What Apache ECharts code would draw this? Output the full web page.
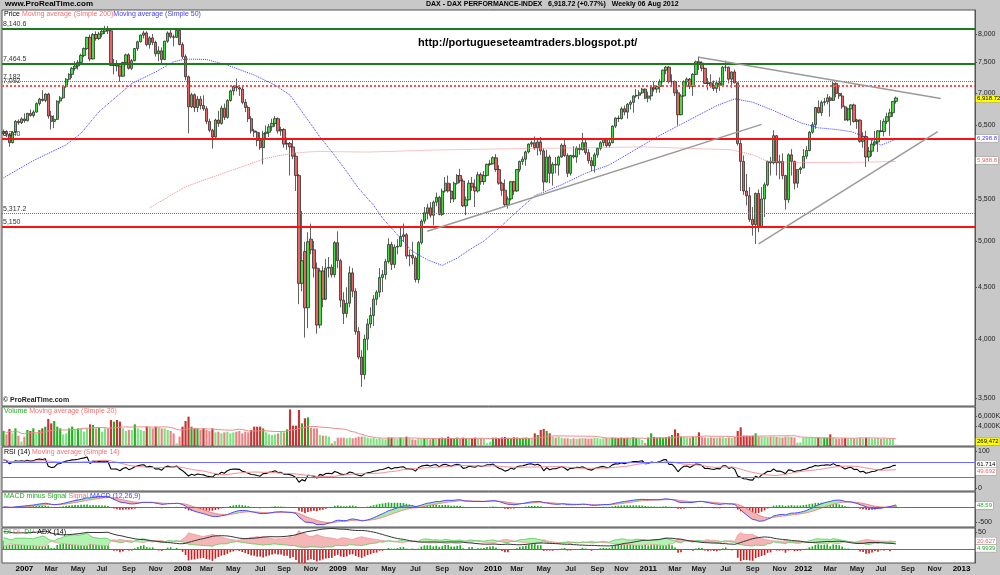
<!DOCTYPE html>
<html><head><meta charset="utf-8">
<script src="https://cdn.jsdelivr.net/npm/echarts@6.0.0/dist/echarts.min.js"></script>
<style>html,body{margin:0;padding:0;background:#c8c8c8}#c{width:1000px;height:575px}</style>
</head><body><div id="c"></div><script>
// Weekly DAX candles, first week = 2006-11-13 (k=-7), last = 2012-08-06 (k=292)
const opens = [6380,6410,6370,6250,6400,6560,6540,
6597,6570,6680,6650,6700,6830,6900,6880,6980,6640,
6560,6590,6870,6920,7100,7220,7300,7400,7440,7500,
7620,7740,7940,7560,7990,7920,8000,8050,8100,8060,
7450,7460,7440,7270,7500,7630,7400,7530,7740,7860,
7980,8020,7810,7930,7850,7650,7700,7550,7870,8020,
7950,7940,8067,7810,7600,7260,6780,6970,6770,6900,
6800,6750,6560,6430,6330,6580,6530,6760,6620,6880,
7030,7100,7080,7060,6850,6770,6600,6420,6400,6280,
6180,6380,6400,6480,6530,6600,6420,6440,6230,6240,
6190,6060,5800,4540,4880,4295,5020,4900,4700,4130,
4670,4380,4700,4710,4630,4980,4780,4370,4240,4340,
4650,4460,4070,3840,3690,4000,4140,4220,4380,4450,
4600,4630,4770,4960,4740,4930,4940,5050,5070,4830,
4840,4810,4580,4980,5230,5330,5390,5300,5460,5520,
5310,5600,5700,5600,5500,5700,5800,5730,5414,5490,
5700,5650,5600,5810,5720,5800,5950,5957,6040,5880,
5700,5610,5430,5500,5720,5600,5880,5990,6020,6120,
6230,6250,6180,6260,6135,5715,6050,5830,5950,5940,
6050,6215,6070,5830,6070,6050,6170,6150,6250,6110,
6000,5930,6080,6170,6250,6300,6210,6250,6490,6610,
6600,6750,6700,6820,6850,6950,6960,7000,7060,6914,
6950,7080,7060,7100,7180,7370,7420,7180,7180,7000,
6660,6950,7180,7220,7100,7300,7510,7490,7400,7150,
7160,7110,7070,7160,7120,7420,7420,7220,7340,7160,
6240,5990,5600,5540,5250,5190,5570,5160,5500,5680,
5990,5970,6350,5970,5990,5800,5490,6080,5990,5700,
5880,5900,6060,6140,6400,6510,6770,6690,6850,6860,
6920,6880,7150,6990,6950,6780,6580,6750,6810,6560,
6580,6270,6340,6050,6130,6230,6260,6420,6410,6560,
6630,6690,6865];
const highs = [6440,6430,6390,6420,6580,6590,6620,
6680,6690,6740,6730,6850,6920,7040,6990,7000,6720,
6650,6880,6950,7110,7240,7320,7420,7520,7540,7650,
7760,7950,7990,8020,8050,8040,8080,8151,8150,8080,
7560,7540,7450,7510,7650,7660,7560,7750,7880,7990,
8060,8050,7960,8000,7880,7780,7760,7880,8050,8100,
7990,8080,8100,7850,7640,7280,7000,6990,6950,6950,
6960,6790,6600,6450,6600,6720,6800,6830,6900,7050,
7120,7230,7110,7100,6900,6800,6640,6450,6420,6400,
6420,6500,6520,6600,6640,6620,6480,6460,6320,6260,
6300,6110,5820,5350,4990,5100,5200,5000,4760,4700,
4720,4800,4820,4740,5000,5110,4800,4450,4500,4720,
4700,4490,4110,3900,4040,4190,4300,4420,4470,4700,
4680,4800,5030,4990,4960,5020,5150,5200,5090,4900,
4990,4830,5000,5250,5400,5440,5460,5480,5580,5540,
5630,5780,5800,5700,5720,5820,5890,5760,5530,5740,
5780,5750,5850,5840,5860,5960,6010,6060,6090,5940,
5720,5750,5530,5730,5730,5880,6000,6060,6140,6240,
6280,6340,6300,6330,6170,6150,6080,5980,6050,6070,
6240,6300,6100,6080,6200,6200,6230,6390,6300,6160,
6050,6110,6180,6270,6310,6320,6320,6500,6620,6650,
6780,6800,6840,6880,6960,7060,7040,7080,7070,7020,
7100,7180,7120,7220,7380,7440,7440,7300,7200,7050,
6980,7200,7250,7240,7320,7530,7600,7520,7410,7240,
7300,7200,7200,7250,7440,7530,7430,7350,7380,7170,
6300,6070,5820,5650,5400,5580,5620,5650,5710,6000,
6050,6430,6360,6080,6100,5810,6100,6160,6000,5880,
5920,6160,6200,6420,6550,6780,6880,6880,6920,6980,
6950,7194,7170,7100,7000,6800,6770,6820,6830,6600,
6590,6400,6420,6190,6290,6420,6430,6580,6600,6690,
6750,6870,6940];
const lows = [6350,6330,6190,6240,6390,6510,6520,
6540,6560,6630,6620,6690,6800,6860,6850,6600,6440,
6460,6580,6830,6900,7080,7200,7240,7360,7380,7480,
7590,7720,7520,7550,7880,7890,7940,8000,8000,7440,
7300,7350,7180,7260,7450,7380,7370,7520,7700,7850,
7920,7780,7740,7800,7600,7520,7470,7540,7840,7920,
7780,7930,7800,7560,7200,6384,6760,6700,6700,6740,
6720,6520,6400,6167,6320,6480,6510,6580,6600,6860,
6960,7020,6950,6820,6700,6550,6380,6330,6200,6150,
5950,6300,6330,6420,6480,6380,6350,6180,6150,5800,
6020,5600,4330,4460,4014,4100,4850,4600,4050,4100,
4300,4370,4600,4600,4600,4700,4300,4140,4200,4300,
4400,4040,3820,3588,3650,3900,4100,4120,4320,4400,
4450,4580,4750,4680,4700,4850,4930,4990,4800,4720,
4740,4550,4540,4960,5200,5250,5270,5180,5410,5300,
5290,5580,5580,5450,5460,5680,5700,5400,5300,5480,
5600,5400,5580,5680,5680,5790,5930,5950,5850,5680,
5540,5400,5380,5480,5550,5590,5850,5940,5930,6100,
6190,6150,6070,6080,5600,5710,5700,5670,5830,5800,
6040,6050,5780,5800,6030,5970,6080,6140,6080,5960,
5860,5840,6040,6140,6200,6180,6180,6240,6460,6550,
6590,6650,6600,6740,6690,6920,6900,6980,6900,6850,
6880,7020,7000,7000,7170,7300,7150,7100,6950,6500,
6650,6940,7120,7060,6950,7290,7370,7350,7140,7040,
7080,7030,7000,7030,7100,7350,7150,7080,7150,6210,
5600,5550,5420,5220,5060,4965,5100,5150,5280,5660,
5800,5950,5800,5750,5750,5370,5450,5800,5620,5640,
5820,5900,6020,6130,6380,6450,6680,6640,6800,6820,
6630,6870,6930,6900,6750,6570,6560,6500,6540,6450,
6250,6180,5915,5990,6060,6200,6120,6400,6340,6520,
6350,6630,6830];
const closes = [6410,6370,6250,6400,6560,6540,6597,
6570,6680,6650,6700,6830,6900,6880,6980,6640,6560,
6590,6870,6920,7100,7220,7300,7400,7440,7500,7620,
7740,7940,7560,7990,7920,8000,8050,8100,8060,7450,
7460,7440,7270,7500,7630,7400,7530,7740,7860,7980,
8020,7810,7930,7850,7650,7700,7550,7870,8020,7950,
7940,8067,7810,7600,7260,6780,6970,6770,6900,6800,
6750,6560,6430,6330,6580,6530,6760,6620,6880,7030,
7100,7080,7060,6850,6770,6600,6420,6400,6280,6180,
6380,6400,6480,6530,6600,6420,6440,6230,6240,6190,
6060,5800,4540,4780,4295,4990,4900,4700,4130,4670,
4380,4700,4710,4630,4980,4780,4370,4240,4340,4650,
4460,4070,3840,3690,4000,4140,4220,4380,4450,4600,
4630,4770,4960,4740,4930,4940,5050,5070,4830,4840,
4810,4580,4980,5230,5330,5390,5300,5460,5520,5310,
5600,5700,5600,5500,5700,5800,5730,5414,5490,5700,
5650,5600,5810,5720,5800,5950,5957,6040,5880,5700,
5610,5430,5500,5720,5600,5880,5990,6020,6120,6230,
6250,6180,6260,6135,5715,6050,5830,5950,5940,6050,
6215,6070,5830,6070,6050,6170,6150,6250,6110,6000,
5930,6080,6170,6250,6300,6210,6250,6490,6610,6600,
6750,6700,6820,6850,6950,6960,7000,7060,6914,6950,
7080,7060,7100,7180,7370,7420,7180,7180,7000,6660,
6950,7180,7220,7100,7300,7510,7490,7400,7150,7160,
7110,7070,7160,7120,7420,7420,7220,7340,7160,6240,
5990,5600,5540,5250,5190,5570,5160,5500,5680,5990,
5970,6350,5970,5990,5800,5490,6080,5990,5700,5880,
5900,6060,6140,6400,6510,6770,6690,6850,6860,6920,
6880,7150,6990,6950,6780,6580,6750,6810,6560,6580,
6270,6340,6050,6130,6230,6260,6420,6410,6560,6630,
6690,6865,6918.72];
// weekly volume, thousands
const volumesK = [3000,2330,3400,2530,3530,2070,870,
1870,3200,3000,3530,2530,3200,3530,3870,5400,4530,
5000,3870,3530,2330,2530,3530,3870,3200,3530,3400,
2870,3530,4330,4200,3530,3730,2870,3530,3530,5200,
4870,5200,4870,3530,3000,3200,3200,4330,3530,3200,
3000,3870,3730,3530,3870,3730,3530,3530,3200,3000,
2530,530,1870,3870,5000,5870,3870,3530,3530,3200,
3530,3200,3000,3530,2730,2870,2530,2730,2870,2530,
2730,2870,3000,2530,2870,2730,3200,3870,3870,3870,
3530,2730,2330,2200,2330,2530,2870,2730,3330,7330,
4070,4070,7200,4530,5530,5730,3670,3530,3530,2200,
2070,2070,1870,530,1000,1670,1670,1670,1530,1670,
1530,1670,1870,1870,1870,1670,1530,1670,1400,1530,
1400,1330,1730,1670,1530,1400,1670,1530,1870,1530,
1330,1200,1530,1400,1530,1400,1330,1530,1400,1530,
1670,1530,1870,1530,1530,1670,1400,1670,1530,1400,
1530,1670,1530,1530,1400,530,870,1670,1670,1600,
1700,1800,1650,1600,1750,1700,1600,1650,1700,1550,
1530,2530,2200,3200,3400,3000,2530,1870,1670,1870,
1670,1530,1530,1400,1530,1450,1500,1600,1550,1450,
1500,1650,1600,1450,1550,1600,1500,1700,1650,1600,
1700,1600,1650,1550,1750,1600,1500,1200,600,1700,
2530,1800,1700,1750,1650,1800,1900,2200,3330,2600,
1870,1800,1700,1650,1870,1800,2730,1750,1700,1650,
1700,1600,1650,1700,1750,1600,1700,1650,1800,3000,
3730,2070,2070,2000,2070,2530,1870,1870,1870,1800,
1870,1900,1800,1750,1700,1850,1900,1800,1700,670,
700,1670,1670,1600,1700,1650,1700,1600,1650,1650,
2330,1600,1500,1450,1550,1600,1500,1550,1450,1500,
1600,1500,1650,1550,1450,1500,1550,1400,1500,1450,
1500,1450,269.472];
// Moving averages: [week index from 2007-01-01, value]
const ma50Points = [[-7,5770],[3,6000],[14,6220],[19,6385],[25,6706],[36,7150],[44,7340],[50,7512],[54,7557],[61,7551],[68,7455],[77,7288],[84,7123],[89,6963],[93,6705],[99,6334],[103,6122],[108,5853],[112,5632],[117,5421],[120,5265],[124,5108],[127,4993],[130,4882],[135,4790],[140,4729],[145,4808],[150,4919],[154,5000],[159,5145],[164,5311],[171,5540],[180,5680],[188,5830],[196,5942],[212,6334],[221,6540],[232,6800],[238,6905],[244,6852],[251,6723],[260,6540],[266,6465],[272,6440],[277,6409],[283,6310],[287,6215],[292,6298.8]];
const ma200Points = [[42,5390],[54,5656],[70,5877],[81,6034],[90,6104],[98,6127],[115,6118],[137,6146],[156,6160],[174,6171],[208,6190],[230,6160],[237,6150],[244,6080],[249,5990],[260,5975],[275,5975],[292,5988.8]];
const priceTicks = [3500,4000,4500,5000,5500,6000,6500,7000,7500,8000];
const levels = [
  {v:8140.6, label:'8,140.6', color:'#1d7a1d', type:'solid', w:2},
  {v:7464.5, label:'7,464.5', color:'#1d7a1d', type:'solid', w:2},
  {v:7182, label:'7,182', color:'#9b45ff', type:'dotted', w:1},
  {v:7092, label:'7,092', color:'#ff5050', type:'dotted', w:2},
  {v:6340, label:'6,340', color:'#ff1010', type:'solid', w:2},
  {v:5317.2, label:'5,317.2', color:'#9b45ff', type:'dotted', w:1},
  {v:5150, label:'5,150', color:'#ff1010', type:'solid', w:2}
];
// trend lines: [week1, price1, week2, price2]
const trendLines = [[135,5110,247,6515],[226,7590,307,6910],[246,4965,306,6410]];
const volTicks = [4000,6000];
const boxTexts = {last:'6,918.72', ma50:'6,298.8', ma200:'5,988.8', vol:'269,472', rsi:'61.714', rsiMa:'49.692', macd:'48.59', diM:'20.627', diP:'4.9939'};
const boxValues = {ma50:6298.8, ma200:5988.8, rsi:61.714, rsiMa:49.692, macd:48.59, diM:20.627, diP:4.9939};

const FIRST_K = -7, NCAT = 326;
const MONTHS = ['Jan','Feb','Mar','Apr','May','Jun','Jul','Aug','Sep','Oct','Nov','Dec'];
const dates = [];
for (let i = 0; i < NCAT; i++) dates.push(new Date(Date.UTC(2006,10,13) + i*7*86400000).toISOString().slice(0,10));
const idx = k => k - FIRST_K;
const n = closes.length;
const FONT = 'Liberation Sans, Arial, sans-serif';
const L = Math.log;

function sparse(points){ const a = new Array(n).fill(null); points.forEach(p => { a[idx(p[0])] = L(p[1]); }); return a; }
function smaPartial(a, p){ return a.map((_, i) => { const s = a.slice(Math.max(0, i-p+1), i+1); return s.reduce((x,y)=>x+y,0)/s.length; }); }
function ema(a, p){ const k = 2/(p+1); let e = a[0]; return a.map((v,i) => (e = i===0 ? v : v*k + e*(1-k))); }
function calcRSI(c, p){
  let ag=0, al=0;
  for (let i=1;i<=p;i++){ const d=c[i]-c[i-1]; if(d>0) ag+=d; else al-=d; }
  ag/=p; al/=p;
  const out=[100-100/(1+ag/(al||1e-9))];
  for (let i=1;i<c.length;i++){ const d=c[i]-c[i-1]; ag=(ag*(p-1)+Math.max(d,0))/p; al=(al*(p-1)+Math.max(-d,0))/p; out.push(100-100/(1+ag/(al||1e-9))); }
  return out;
}
function calcDMI(h,l,c,p){
  const tr=[],pdm=[],mdm=[];
  for (let i=0;i<c.length;i++){
    if(i===0){ tr.push(h[0]-l[0]); pdm.push(0); mdm.push(0); continue; }
    const up=h[i]-h[i-1], dn=l[i-1]-l[i];
    tr.push(Math.max(h[i]-l[i], Math.abs(h[i]-c[i-1]), Math.abs(l[i]-c[i-1])));
    pdm.push(up>dn&&up>0?up:0); mdm.push(dn>up&&dn>0?dn:0);
  }
  const w = a => { let s=a.slice(0,p).reduce((x,y)=>x+y,0)/p; return a.map(v => (s=(s*(p-1)+v)/p)); };
  const str=w(tr), sp=w(pdm), sm=w(mdm);
  const dip=str.map((t,i)=>100*sp[i]/t), dim=str.map((t,i)=>100*sm[i]/t);
  const dx=dip.map((v,i)=>100*Math.abs(v-dim[i])/((v+dim[i])||1));
  return {dip, dim, adx:w(dx)};
}

const candleData = opens.map((o,i) => [L(o), L(closes[i]), L(lows[i]), L(highs[i])]);
const volMA = smaPartial(volumesK, 20);
const rsi = calcRSI(closes, 14);
const rsiMA = smaPartial(rsi, 14);
const e12 = ema(closes, 12), e26 = ema(closes, 26);
const macd = closes.map((_, i) => e12[i]-e26[i]);
const signal = ema(macd, 9);
const macdHist = macd.map((m,i) => m-signal[i]);
const dmi = calcDMI(highs, lows, closes, 14);
const diHist = dmi.dip.map((v,i) => v-dmi.dim[i]);

const gridDefs = [[10,396],[407,39],[447,44],[492,35],[528,35]];
const grids = gridDefs.map(g => ({left:2, right:25, top:g[0], height:g[1], show:true, backgroundColor:'#fff', borderColor:'#555', borderWidth:1, containLabel:false, outerBoundsMode:'none'}));
const xAxes = gridDefs.map((g, gi) => ({
  type:'category', gridIndex:gi, data:dates, boundaryGap:true,
  axisLine:{show:false}, axisTick:{show:false}, splitLine:{show:false},
  axisLabel:{show: gi===4, margin:2, color:'#000', fontFamily:FONT,
    interval:(i, v) => { const d = new Date(v+'T00:00:00Z'); return d.getUTCDate()<=7 && d.getUTCMonth()%2===0; },
    formatter:(v) => { const d = new Date(v+'T00:00:00Z'); return d.getUTCMonth()===0 ? '{y|'+d.getUTCFullYear()+'}' : '{m|'+MONTHS[d.getUTCMonth()]+'}'; },
    rich:{y:{fontWeight:'bold', fontSize:8, fontFamily:FONT, color:'#000'}, m:{fontSize:7.5, fontWeight:'bold', fontFamily:FONT, color:'#222'}}}
}));
function yAx(gi, min, max, ticks, fmt){
  return {type:'value', gridIndex:gi, position:'right', min, max, scale:true,
    axisLine:{show:true, lineStyle:{color:'#555'}},
    axisTick:{show:true, length:2, customValues:ticks, lineStyle:{color:'#555'}},
    splitLine:{show:false},
    axisLabel:{show:true, customValues:ticks, formatter:fmt, fontSize:7, color:'#222', margin:3, fontFamily:FONT}};
}
const yAxes = [
  yAx(0, L(3436), L(8449), priceTicks.map(L), v => Math.round(Math.exp(v)).toLocaleString('en-US')),
  yAx(1, 0, 7800, volTicks, v => v.toLocaleString('en-US')+'K'),
  yAx(2, -8.1, 110.8, [0,100], v => String(v)),
  yAx(3, -667, 500, [-500], v => String(v)),
  yAx(4, -41.2, 61.8, [50], v => String(v))
];
function box(val, text, bg, color, dy){
  return {yAxis:val, lineStyle:{color:'rgba(0,0,0,0)', width:0.01}, label:{show:true, position:'end', formatter:text, backgroundColor:bg, color, fontSize:6, fontFamily:FONT, padding:[1,1,0,1], borderColor:'#999', borderWidth:0.5, distance:1, offset:[0, dy||0]}};
}
const mainMarks = levels.map(lv => ({yAxis:L(lv.v), lineStyle:{color:lv.color, type:lv.type, width:lv.w}, label:{show:true, position:'insideStartTop', formatter:lv.label, fontSize:7, color:'#333', fontFamily:FONT, distance:1}}))
  .concat(trendLines.map(t => [{coord:[dates[idx(t[0])], L(t[1])], lineStyle:{color:'#9a9a9a', width:1.5, type:'solid'}, label:{show:false}}, {coord:[dates[idx(t[2])], L(t[3])]}]));
const mainBoxes = [box(L(closes[n-1]), boxTexts.last, '#ffff00', '#000'),
           box(L(boxValues.ma50), boxTexts.ma50, '#fff', '#4040ff'),
           box(L(boxValues.ma200), boxTexts.ma200, '#fff', '#ee6060')];

function fillSet(ax, a, b, stackName, upColor, dnColor){
  const base = a.map((v,i)=>Math.min(v,b[i])), up = a.map((v,i)=>Math.max(v-b[i],0)), dn = a.map((v,i)=>Math.max(b[i]-v,0));
  const common = {type:'line', xAxisIndex:ax, yAxisIndex:ax, stack:stackName, stackStrategy:'all', symbol:'none', silent:true, lineStyle:{width:0, opacity:0}};
  return [Object.assign({data:base}, common), Object.assign({data:up, areaStyle:{color:upColor, opacity:1}}, common), Object.assign({data:dn, areaStyle:{color:dnColor, opacity:1}}, common)];
}
const lineS = (ax, data, color, w, extra) => Object.assign({type:'line', xAxisIndex:ax, yAxisIndex:ax, data, symbol:'none', silent:true, lineStyle:{color, width:w}}, extra||{});
const boxSeries = (ax, items) => ({type:'line', xAxisIndex:ax, yAxisIndex:ax, data:[], silent:true, clip:false, z:20,
  markLine:{symbol:['none','none'], silent:true, animation:false, data:items}});

const series = [
  {type:'candlestick', xAxisIndex:0, yAxisIndex:0, data:candleData, barWidth:2.8,
   itemStyle:{color:'#3fe03f', color0:'#e86464', borderColor:'#1e1e1e', borderColor0:'#1e1e1e', borderWidth:0.7},
   markLine:{symbol:['none','none'], silent:true, animation:false, data:mainMarks}},
  lineS(0, sparse(ma200Points), '#f08a8a', 1, {connectNulls:true, lineStyle:{color:'#f08a8a', width:1, type:'dotted'}}),
  lineS(0, sparse(ma50Points), '#3a3aff', 1, {connectNulls:true, lineStyle:{color:'#3a3aff', width:1, type:'dotted'}}),
  boxSeries(0, mainBoxes),
  {type:'bar', xAxisIndex:1, yAxisIndex:1, barWidth:'72%', silent:true,
   data:volumesK.map((v,i) => { const up = closes[i]>=opens[i]; const dark = v>=volMA[i]; return {value:v, itemStyle:{color: up ? (dark?'#22b022':'#7ee07e') : (dark?'#c83232':'#ee8282')}}; })},
  lineS(1, volMA, '#ee8a8a', 1),
  boxSeries(1, [box(volumesK[n-1], boxTexts.vol, '#ffff00', '#000', -3)]),
  lineS(2, rsi, '#000', 1.1, {markLine:{symbol:['none','none'], silent:true, animation:false, data:[
     {yAxis:70, lineStyle:{color:'#6a6aff', width:1, type:'solid'}, label:{show:false}},
     {yAxis:30, lineStyle:{color:'#6a6aff', width:1, type:'solid'}, label:{show:false}}]}}),
  lineS(2, rsiMA, '#f09090', 1),
  boxSeries(2, [box(boxValues.rsi, boxTexts.rsi, '#fff', '#000', -1), box(boxValues.rsiMa, boxTexts.rsiMa, '#fff', '#ee6060', 2)]),
  ...fillSet(3, macd, signal, 'macdFill', '#a6eea6', '#f4b4b4'),
  {type:'bar', xAxisIndex:3, yAxisIndex:3, barWidth:'55%', silent:true,
   data:macdHist.map(v => ({value:v, itemStyle:{color: v>=0 ? '#22aa22' : '#c82020'}})),
   markLine:{symbol:['none','none'], silent:true, animation:false, data:[
     {yAxis:0, lineStyle:{color:'#5a5aff', width:1, type:'solid'}, label:{show:false}}]}},
  lineS(3, signal, '#f08a8a', 1),
  lineS(3, macd, '#4a4aff', 1),
  boxSeries(3, [box(boxValues.macd, boxTexts.macd, '#fff', '#22aa22')]),
  ...fillSet(4, dmi.dip, dmi.dim, 'dmiFill', '#b2f2b2', '#f4b6b6'),
  {type:'bar', xAxisIndex:4, yAxisIndex:4, barWidth:'55%', silent:true,
   data:diHist.map(v => ({value:v, itemStyle:{color: v>=0 ? '#22aa22' : '#c82020'}})),
   markLine:{symbol:['none','none'], silent:true, animation:false, data:[
     {yAxis:0, lineStyle:{color:'#5a5aff', width:1, type:'solid'}, label:{show:false}}]}},
  lineS(4, dmi.dim, '#f09a9a', 0.8),
  lineS(4, dmi.dip, '#55cc55', 0.8),
  lineS(4, dmi.adx, '#333', 1),
  boxSeries(4, [box(boxValues.diM, boxTexts.diM, '#fff', '#ee6060', -1), box(boxValues.diP, boxTexts.diP, '#fff', '#22aa22', 1)])
];

const t = (text, left, top, size, rich, extra) => Object.assign({text, left, top, padding:0, itemGap:0,
  textStyle:{fontSize:size, fontFamily:FONT, color:'#000', fontWeight:'normal', rich:rich||{}}}, extra||{});
const rs = (c, w) => ({color:c, fontSize:7, fontFamily:FONT, fontWeight:w||'normal'});
const titles = [
  t('www.ProRealTime.com', 5, 0, 8, null, {textStyle:{fontSize:8, fontWeight:'bold', fontFamily:FONT, color:'#000'}}),
  t('DAX - DAX PERFORMANCE-INDEX   6,918.72 (+0.77%)   Weekly 06 Aug 2012', 426, 1, 7, null, {textStyle:{fontSize:7, fontWeight:'bold', fontFamily:FONT, color:'#000'}}),
  t('http://portugueseteamtraders.blogspot.pt/', 418, 37, 11, null, {textStyle:{fontSize:11, fontWeight:'bold', fontFamily:FONT, color:'#000'}}),
  t('{a|Price }{b|Moving average (Simple 200)}{c|Moving average (Simple 50)}', 4, 11, 7, {a:rs('#000'), b:rs('#f07070'), c:rs('#4040ff')}),
  t('© ProRealTime.com', 3, 397, 7, null, {textStyle:{fontSize:7, fontFamily:FONT, color:'#222'}}),
  t('{a|Volume }{b|Moving average (Simple 20)}', 4, 408, 7, {a:rs('#22aa22'), b:rs('#f07070')}),
  t('{a|RSI (14) }{b|Moving average (Simple 14)}', 4, 449, 7, {a:rs('#000'), b:rs('#f07070')}),
  t('{a|MACD minus Signal }{b|Signal }{c|MACD (12,26,9)}', 4, 493, 7, {a:rs('#22aa22'), b:rs('#f07070'), c:rs('#4040ff')}),
  t('{a|DI }{b|DI- }{c|DI+ }{d|ADX (14)}', 4, 529, 7, {a:rs('#22aa22'), b:rs('#f07070'), c:rs('#22aa22'), d:rs('#000')})
];

const chart = echarts.init(document.getElementById('c'), null, {renderer:'canvas'});
chart.setOption({
  backgroundColor:'#c8c8c8', animation:false,
  title:titles, grid:grids, xAxis:xAxes, yAxis:yAxes, series
});
</script></body></html>
